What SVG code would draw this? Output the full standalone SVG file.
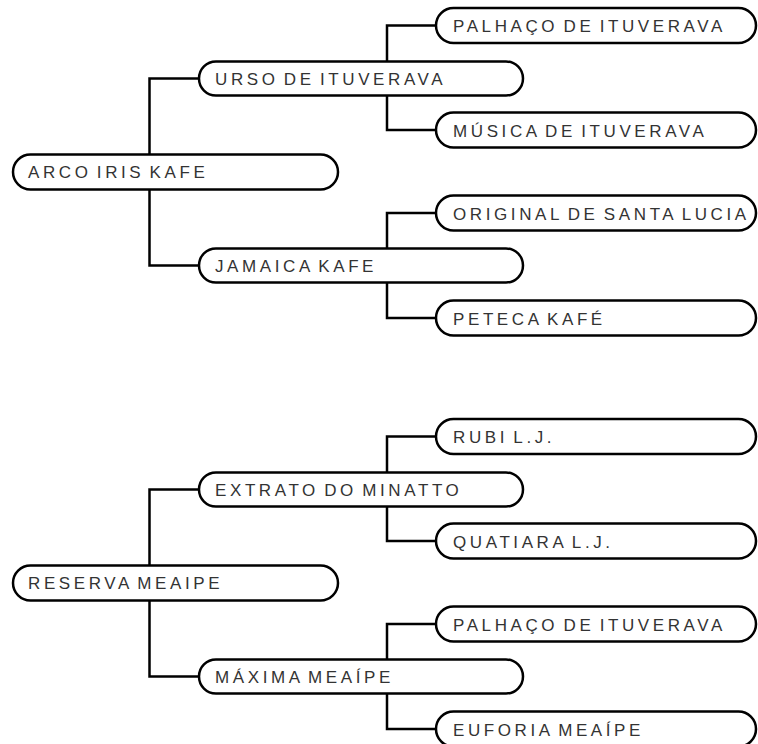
<svg xmlns="http://www.w3.org/2000/svg" width="758" height="744" viewBox="0 0 758 744">
<style>
.pill{fill:#fff;stroke:#000;stroke-width:2.5}
.lbl{font-family:"Liberation Sans",Arial,sans-serif;font-size:17px;letter-spacing:3.6px;word-spacing:-3px;fill:#333}
.con{fill:none;stroke:#000;stroke-width:2.5}
</style>
<rect width="758" height="744" fill="#fff"/>
<g id="connectors">
<path class="con" d="M199,78.5 H149.5 V265.5 H199"/>
<path class="con" d="M436,25.5 H387 V130 H436"/>
<path class="con" d="M436,213 H387 V318 H436"/>
<path class="con" d="M199,489.5 H149.5 V676.5 H199"/>
<path class="con" d="M436,436.5 H387 V541 H436"/>
<path class="con" d="M436,624 H387 V729 H436"/>
</g>
<g id="n-arco"><rect class="pill" x="13" y="154.5" width="325" height="35" rx="17.5"/><text class="lbl" x="28" y="178">ARCO IRIS KAFE</text></g>
<g id="n-urso"><rect class="pill" x="199" y="61.5" width="324" height="34" rx="17"/><text class="lbl" x="215" y="85">URSO DE ITUVERAVA</text></g>
<g id="n-palhaco1"><rect class="pill" x="436" y="8" width="320" height="35" rx="17.5"/><text class="lbl" x="453" y="32">PALHAÇO DE ITUVERAVA</text></g>
<g id="n-musica"><rect class="pill" x="436" y="112.5" width="320" height="35" rx="17.5"/><text class="lbl" x="453" y="136.5">MÚSICA DE ITUVERAVA</text></g>
<g id="n-jamaica"><rect class="pill" x="199" y="248.5" width="324" height="34" rx="17"/><text class="lbl" x="215" y="272">JAMAICA KAFE</text></g>
<g id="n-original"><rect class="pill" x="436" y="195.5" width="320" height="35" rx="17.5"/><text class="lbl" x="453" y="219.5">ORIGINAL DE SANTA LUCIA</text></g>
<g id="n-peteca"><rect class="pill" x="436" y="300.5" width="320" height="35" rx="17.5"/><text class="lbl" x="453" y="324.5">PETECA KAFÉ</text></g>
<g id="n-reserva"><rect class="pill" x="13" y="565.5" width="325" height="35" rx="17.5"/><text class="lbl" x="28" y="589">RESERVA MEAIPE</text></g>
<g id="n-extrato"><rect class="pill" x="199" y="472.5" width="324" height="34" rx="17"/><text class="lbl" x="215" y="496">EXTRATO DO MINATTO</text></g>
<g id="n-rubi"><rect class="pill" x="436" y="419" width="320" height="35" rx="17.5"/><text class="lbl" x="453" y="443">RUBI L.J.</text></g>
<g id="n-quatiara"><rect class="pill" x="436" y="523.5" width="320" height="35" rx="17.5"/><text class="lbl" x="453" y="547.5">QUATIARA L.J.</text></g>
<g id="n-maxima"><rect class="pill" x="199" y="659.5" width="324" height="34" rx="17"/><text class="lbl" x="215" y="683">MÁXIMA MEAÍPE</text></g>
<g id="n-palhaco2"><rect class="pill" x="436" y="606.5" width="320" height="35" rx="17.5"/><text class="lbl" x="453" y="630.5">PALHAÇO DE ITUVERAVA</text></g>
<g id="n-euforia"><rect class="pill" x="436" y="711.5" width="320" height="35" rx="17.5"/><text class="lbl" x="453" y="735.5">EUFORIA MEAÍPE</text></g>
</svg>
